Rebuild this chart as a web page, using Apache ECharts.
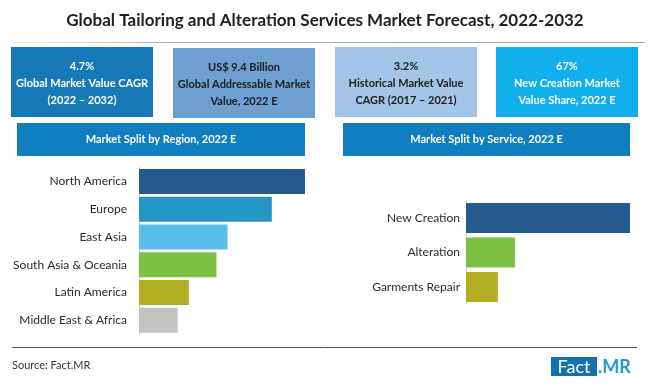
<!DOCTYPE html>
<html>
<head>
<meta charset="utf-8">
<script src="https://cdn.jsdelivr.net/npm/echarts@6/dist/echarts.min.js"></script>
<style>html,body{margin:0;padding:0;background:#fff;}#c{width:650px;height:385px;}</style>
</head>
<body>
<div id="c"></div>
<script>
const titleText = 'Global Tailoring and Alteration Services Market Forecast, 2022-2032';
const kpiLines = [
  ['4.7%', 'Global Market Value CAGR', '(2022 – 2032)'],
  ['US$ 9.4 Billion', 'Global Addressable Market', 'Value, 2022 E'],
  ['3.2%', 'Historical Market Value', 'CAGR (2017 – 2021)'],
  ['67%', 'New Creation Market', 'Value Share, 2022 E']
];
const regionTitle = 'Market Split by Region, 2022 E';
const serviceTitle = 'Market Split by Service, 2022 E';
const regions = ['North America', 'Europe', 'East Asia', 'South Asia & Oceania', 'Latin America', 'Middle East & Africa'];
const regionValues = [30, 24, 16, 14, 9, 7];
const services = ['New Creation', 'Alteration', 'Garments Repair'];
const serviceValues = [67, 20, 13];
const sourceText = 'Source: Fact.MR';

const regionColors = ['#245a8d', '#2496c6', '#59bde9', '#7cc143', '#b2ae22', '#c3c3c3'];
const serviceColors = ['#245a8d', '#7cc143', '#b2ae22'];
const kpiBoxes = [
  {x: 11, y: 47, w: 142, h: 70, fill: '#177ab7', text: '#ffffff'},
  {x: 173, y: 48, w: 142, h: 70, fill: '#6d9fd1', text: '#1e1e1e'},
  {x: 335, y: 47, w: 142, h: 70, fill: '#a3c4e6', text: '#1e1e1e'},
  {x: 496, y: 47, w: 142, h: 70, fill: '#12afed', text: '#ffffff'}
];
const FONT = 'Lato';

const chart = echarts.init(document.getElementById('c'), null, {renderer: 'canvas'});

const graphics = [];
graphics.push({type: 'text', left: 'center', top: 12, style: {text: titleText, font: 'bold 17px ' + FONT, fill: '#222'}});
graphics.push({type: 'line', shape: {x1: 10, y1: 42.5, x2: 645, y2: 42.5}, style: {lineWidth: 1,
  stroke: new echarts.graphic.LinearGradient(0, 0, 1, 0, [{offset: 0, color: 'rgba(160,160,160,0.1)'}, {offset: 0.25, color: 'rgba(150,150,150,0.8)'}, {offset: 1, color: 'rgba(150,150,150,0.9)'}])}});
kpiBoxes.forEach((b, i) => {
  graphics.push({type: 'rect', shape: {x: b.x, y: b.y, width: b.w, height: b.h}, style: {fill: b.fill}});
  graphics.push({type: 'text', x: b.x + b.w / 2, y: b.y + b.h / 2 + 1, style: {
    text: kpiLines[i].join('\n'), font: 'bold 11px ' + FONT, fill: b.text, align: 'center', verticalAlign: 'middle', lineHeight: 17}});
});
[[17, 288, regionTitle], [343, 287, serviceTitle]].forEach(([x, w, t]) => {
  graphics.push({type: 'rect', shape: {x: x, y: 123, width: w, height: 33}, style: {fill: '#0f7fc0'}});
  graphics.push({type: 'text', x: x + w / 2, y: 139.5, style: {text: t, font: 'bold 11px ' + FONT, fill: '#fff', align: 'center', verticalAlign: 'middle'}});
});
graphics.push({type: 'line', shape: {x1: 12, y1: 347.5, x2: 637, y2: 347.5}, style: {stroke: '#555', lineWidth: 1}});
graphics.push({type: 'text', x: 12, y: 365, style: {text: sourceText, font: '11px ' + FONT, fill: '#333', verticalAlign: 'middle'}});
graphics.push({type: 'rect', shape: {x: 551, y: 357, width: 46, height: 19}, style: {fill: '#1670b0'}});
graphics.push({type: 'text', x: 574, y: 367, style: {text: 'Fact', font: '18px ' + FONT, fill: '#fff', align: 'center', verticalAlign: 'middle'}});
graphics.push({type: 'text', x: 598, y: 367, style: {text: '.MR', font: 'bold 18px ' + FONT, fill: '#1b9ad9', verticalAlign: 'middle'}});

const catAxis = (data, idx, margin) => ({
  type: 'category', gridIndex: idx, data: data, inverse: true,
  axisLine: {show: true, lineStyle: {color: '#d0d0d0', width: 1}},
  axisTick: {show: false},
  axisLabel: {color: '#2a2a2a', fontSize: 12, fontFamily: FONT, margin: margin}
});
const valAxis = (idx, max) => ({type: 'value', gridIndex: idx, min: 0, max: max, show: false, splitLine: {show: false}});

chart.setOption({
  animation: false,
  backgroundColor: '#fff',
  graphic: graphics,
  grid: [
    {left: 139, width: 166, top: 167.5, height: 166.5},
    {left: 466, width: 164, top: 200.75, height: 103.5}
  ],
  xAxis: [valAxis(0, regionValues[0]), valAxis(1, serviceValues[0])],
  yAxis: [catAxis(regions, 0, 12), catAxis(services, 1, 6)],
  series: [
    {type: 'bar', xAxisIndex: 0, yAxisIndex: 0, barWidth: 25,
      data: regionValues.map((v, i) => ({value: v, itemStyle: {color: regionColors[i]}}))},
    {type: 'bar', xAxisIndex: 1, yAxisIndex: 1, barWidth: 30,
      data: serviceValues.map((v, i) => ({value: v, itemStyle: {color: serviceColors[i]}}))}
  ]
});
</script>
</body>
</html>
